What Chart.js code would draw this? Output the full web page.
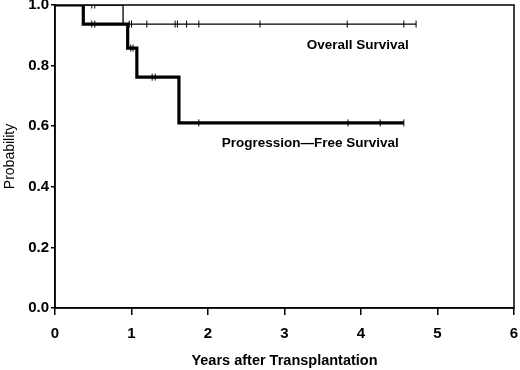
<!DOCTYPE html>
<html>
<head>
<meta charset="utf-8">
<script src="https://cdn.jsdelivr.net/npm/chart.js@4/dist/chart.umd.min.js"></script>
<style>
  html, body { margin: 0; padding: 0; background: #fff; }
  #wrap { width: 520px; height: 370px; }
</style>
</head>
<body>
<div id="wrap"><canvas id="kmChart"></canvas></div>
<script>
// Kaplan-Meier curves
const osTimes = [0, 0.89, 4.72];
const osSurv = [1.0, 0.937, 0.937];
const osCensored = [0.48, 0.52, 0.97, 1.0, 1.2, 1.57, 1.6, 1.72, 1.88, 2.68, 3.82, 4.56, 4.72];

const pfsTimes = [0, 0.37, 0.95, 1.07, 1.62, 4.56];
const pfsSurv = [1.0, 0.937, 0.858, 0.762, 0.611, 0.611];
const pfsCensored = [0.48, 0.52, 0.99, 1.02, 1.27, 1.31, 1.88, 3.83, 4.25, 4.56];

const xTicks = [0, 1, 2, 3, 4, 5, 6];
const yTicks = [0, 0.2, 0.4, 0.6, 0.8, 1.0];

const FONT = "'Liberation Sans', Arial, Helvetica, sans-serif";

// survival value at time t on a step curve
function stepValue(times, surv, t) {
    let v = surv[0];
    for (let i = 0; i < times.length; i++) {
        if (times[i] <= t) v = surv[i];
    }
    return v;
}

function curve(times, surv) {
    return times.map((t, i) => ({ x: t, y: surv[i] }));
}

function marks(times, surv, censored) {
    return censored.map(t => ({ x: t, y: stepValue(times, surv, t) }));
}

// frame box + curve labels
const decorPlugin = {
    id: 'decor',
    afterDraw(chart) {
        const ctx = chart.ctx;
        const area = chart.chartArea;
        const xs = chart.scales.x;
        const ys = chart.scales.y;
        ctx.save();
        ctx.strokeStyle = '#000';
        ctx.lineWidth = 1.5;
        ctx.strokeRect(area.left, area.top, area.right - area.left, area.bottom - area.top);

        ctx.fillStyle = '#000';
        ctx.font = 'bold 13.5px ' + FONT;
        ctx.textBaseline = 'middle';
        ctx.textAlign = 'left';
        ctx.fillText('Overall Survival', xs.getPixelForValue(3.29), ys.getPixelForValue(0.868));
        ctx.fillText('Progression\u2014Free Survival', xs.getPixelForValue(2.18), ys.getPixelForValue(0.545));
        ctx.restore();
    }
};

const ctx = document.getElementById('kmChart');
new Chart(ctx, {
    type: 'scatter',
    data: {
        datasets: [
            {
                label: 'Overall Survival',
                data: curve(osTimes, osSurv),
                showLine: true,
                stepped: true,
                borderColor: '#000',
                borderWidth: 1.3,
                pointRadius: 0
            },
            {
                label: 'Progression-Free Survival',
                data: curve(pfsTimes, pfsSurv),
                showLine: true,
                stepped: true,
                borderColor: '#000',
                borderWidth: 3.2,
                pointRadius: 0
            },
            {
                label: 'OS censored',
                data: marks(osTimes, osSurv, osCensored),
                showLine: false,
                pointStyle: 'line',
                rotation: 90,
                pointRadius: 3.5,
                borderColor: '#000',
                borderWidth: 1
            },
            {
                label: 'PFS censored',
                data: marks(pfsTimes, pfsSurv, pfsCensored),
                showLine: false,
                pointStyle: 'line',
                rotation: 90,
                pointRadius: 3.5,
                borderColor: '#000',
                borderWidth: 1
            }
        ]
    },
    options: {
        responsive: true,
        maintainAspectRatio: false,
        animation: false,
        layout: {
            padding: { top: 5, right: 6, left: 2, bottom: 0 }
        },
        plugins: {
            legend: { display: false },
            tooltip: { enabled: false }
        },
        scales: {
            x: {
                type: 'linear',
                min: 0,
                max: 6,
                afterBuildTicks: function (scale) {
                    scale.ticks = xTicks.map(v => ({ value: v }));
                },
                ticks: {
                    color: '#000',
                    padding: 10,
                    font: { size: 15, weight: 'bold', family: FONT }
                },
                grid: {
                    drawOnChartArea: false,
                    drawTicks: true,
                    tickLength: 7,
                    color: '#000',
                    lineWidth: 1.5
                },
                border: { color: '#000', width: 1.5 },
                title: {
                    display: true,
                    text: 'Years after Transplantation',
                    color: '#000',
                    padding: { top: 6, bottom: 0 },
                    font: { size: 14.5, weight: 'bold', family: FONT }
                },
                afterFit: function (scale) {
                    scale.height = 62;
                    scale.paddingLeft = 0;
                    scale.paddingRight = 0;
                }
            },
            y: {
                type: 'linear',
                min: 0,
                max: 1,
                afterBuildTicks: function (scale) {
                    scale.ticks = yTicks.map(v => ({ value: v }));
                },
                ticks: {
                    color: '#000',
                    padding: 2,
                    font: { size: 15, weight: 'bold', family: FONT },
                    callback: function (value) {
                        return value.toFixed(1);
                    }
                },
                grid: {
                    drawOnChartArea: false,
                    drawTicks: true,
                    tickLength: 4,
                    color: '#000',
                    lineWidth: 1.5
                },
                border: { color: '#000', width: 1.5 },
                title: {
                    display: true,
                    text: 'Probability',
                    color: '#000',
                    padding: { top: 0, bottom: 0 },
                    font: { size: 14, weight: 'normal', family: FONT }
                },
                afterFit: function (scale) {
                    scale.width = 53;
                    scale.paddingTop = 0;
                    scale.paddingBottom = 0;
                }
            }
        }
    },
    plugins: [decorPlugin]
});
</script>
</body>
</html>
